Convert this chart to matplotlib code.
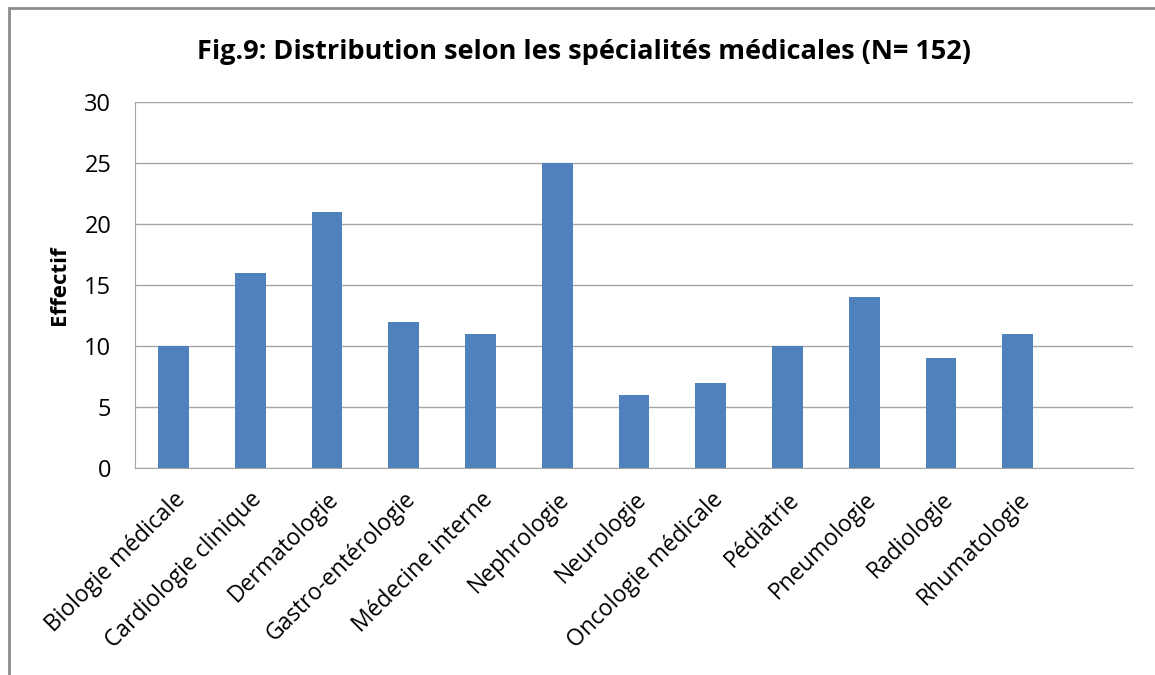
import matplotlib
matplotlib.use("Agg")
import matplotlib.pyplot as plt
from matplotlib.patches import Rectangle

categories = ["Biologie médicale", "Cardiologie clinique", "Dermatologie",
              "Gastro-entérologie", "Médecine interne", "Nephrologie",
              "Neurologie", "Oncologie médicale", "Pédiatrie", "Pneumologie",
              "Radiologie", "Rhumatologie"]
values = [10, 16, 21, 12, 11, 25, 6, 7, 10, 14, 9, 11]
yticks = [0, 5, 10, 15, 20, 25, 30]
n_slots = 13

plt.rcParams['font.family'] = ['Open Sans', 'DejaVu Sans']

fig = plt.figure(figsize=(11.55, 6.75), dpi=100)
fig.patches.append(Rectangle((9/1155, -0.05), 1.2, (1 - 8/675) + 0.05, transform=fig.transFigure,
                             fill=False, edgecolor='#8c8c8c', linewidth=2))
ax = fig.add_axes([135/1155, 1-468/675, 998/1155, 366/675])

x = list(range(len(categories)))
ax.bar(x, values, width=0.4, color='#4F81BD', zorder=3)
ax.set_xlim(-0.5, n_slots - 0.5)
ax.set_ylim(0, 30)
ax.set_yticks(yticks)
ax.set_yticklabels([str(t) for t in yticks], fontsize=17)
ax.yaxis.grid(True, color='#a6a6a6', linewidth=1, zorder=0)
ax.set_xticks(x)
ax.set_xticklabels(categories, rotation=45, ha='right', rotation_mode='anchor', fontsize=16.5)
ax.tick_params(axis='both', length=0)
ax.tick_params(axis='y', pad=17)
ax.tick_params(axis='x', pad=14)
for s in ['top', 'right']:
    ax.spines[s].set_visible(False)
for s in ['left', 'bottom']:
    ax.spines[s].set_color('#a6a6a6')
ax.set_ylabel('Effectif', fontsize=16, fontweight='bold', labelpad=10)
fig.text(584/1155, 1-52/675, 'Fig.9: Distribution selon les spécialités médicales (N= 152)',
         ha='center', va='center', fontsize=19.5, fontweight='bold')
fig.savefig('out.png', dpi=100)
